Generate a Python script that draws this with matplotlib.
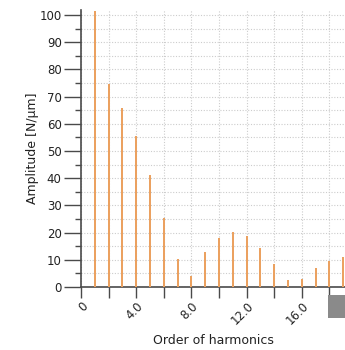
import matplotlib
matplotlib.use('Agg')
import matplotlib.pyplot as plt
from matplotlib.patches import Rectangle
from matplotlib.ticker import MultipleLocator, FixedLocator, FixedFormatter

# harmonic order and amplitude
orders = [1, 2, 3, 4, 5, 6, 7, 8, 9, 10, 11, 12, 13, 14, 15, 16, 17, 18, 19]
amplitudes = [101.5, 74.5, 65.7, 55.5, 41.2, 25.2, 10.3, 3.9, 12.7, 18.1,
              20.1, 18.6, 14.2, 8.5, 2.6, 2.9, 7.0, 9.7, 10.9]
xtick_pos = [0, 4, 8, 12, 16]
xtick_labels = ['0', '4.0', '8.0', '12.0', '16.0']

plt.rcParams['font.family'] = 'DejaVu Sans'

fig = plt.figure(figsize=(3.45, 3.5), dpi=100)
ax = fig.add_axes([0.235, 0.18, 0.765, 0.7926])

ax.bar(orders, amplitudes, width=0.14, color='#EBA160', linewidth=0, zorder=3)

ax.set_xlim(0, 19.13)
ax.set_ylim(0, 102)

ax.yaxis.set_major_locator(MultipleLocator(10))
ax.yaxis.set_minor_locator(MultipleLocator(5))
ax.xaxis.set_major_locator(FixedLocator(xtick_pos))
ax.xaxis.set_major_formatter(FixedFormatter(xtick_labels))
ax.xaxis.set_minor_locator(MultipleLocator(2))

ax.grid(True, which='both', axis='both', linestyle=(0, (1, 1.5)), color='#cccccc', linewidth=0.8)
ax.set_axisbelow(True)

for s in ['top', 'right']:
    ax.spines[s].set_visible(False)
for s in ['left', 'bottom']:
    ax.spines[s].set_color('#4a4a4a')
    ax.spines[s].set_linewidth(1.2)

ax.tick_params(axis='y', which='major', length=12, width=1, color='#4a4a4a',
               labelsize=8.5, pad=2, labelcolor='#222222')
ax.tick_params(axis='y', which='minor', length=4, width=1, color='#4a4a4a')
ax.tick_params(axis='x', which='both', length=8, width=1, color='#4a4a4a',
               labelsize=8.5, labelcolor='#222222', pad=1)
for lbl in ax.get_xticklabels():
    lbl.set_rotation(45)
    lbl.set_ha('right')
    lbl.set_va('top')
    lbl.set_rotation_mode('anchor')

ax.set_xlabel('Order of harmonics', fontsize=9, color='#222222', labelpad=5)
ax.set_ylabel('Amplitude [N/\u00b5m]', fontsize=9, color='#222222', labelpad=0)

# grey overlay box in the bottom right corner
fig.patches.append(Rectangle((328 / 345, 1 - 318 / 350), 17 / 345, 23 / 350,
                             transform=fig.transFigure, facecolor='#8a8a8a',
                             edgecolor='none', zorder=10))

fig.savefig('out.png', dpi=100)
